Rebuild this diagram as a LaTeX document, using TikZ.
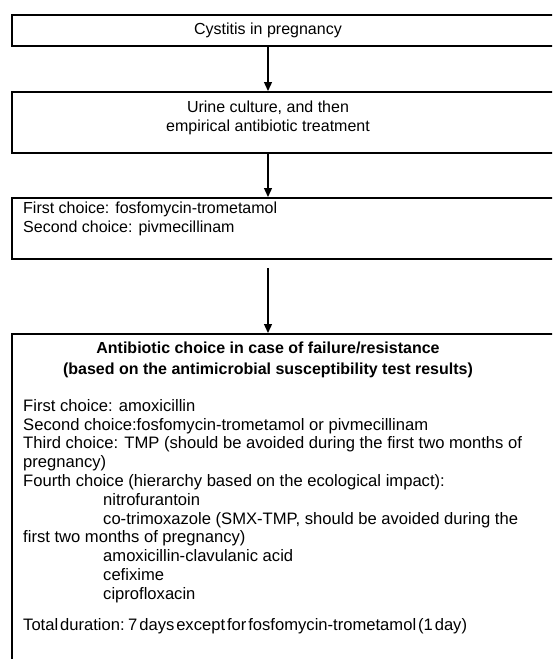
\documentclass[tikz,border=0pt]{standalone}
\usepackage{fontspec}
\setmainfont{Liberation Sans}
\usetikzlibrary{arrows.meta}
\begin{document}
\begin{tikzpicture}[x=1pt,y=-1pt,
  boxframe/.style={draw, line width=1.6pt, inner sep=0pt, anchor=north west, minimum width=600pt},
  flow/.style={line width=1.3pt, -{Triangle[width=8pt,length=9pt]}},
  txt/.style={inner sep=0pt, font=\fontsize{16}{18.8}\selectfont},
  ctxt/.style={txt, align=center},
  ltxt/.style={txt, align=left, anchor=north west},
]
\useasboundingbox (0,0) rectangle (552,659);
\clip (0,0) rectangle (552,659);

% boxes (they run past the right and lower edges)
\node[boxframe, minimum height=31pt] (b1) at (11,14) {};
\node[boxframe, minimum height=61pt] (b2) at (11,91) {};
\node[boxframe, minimum height=61pt] (b3) at (11,197) {};
\node[boxframe, minimum height=400pt] (b4) at (11,333) {};

% box texts
\node[ctxt] (t1) at (268,30) {Cystitis in pregnancy};
\node[ctxt] (t2) at (268,118) {Urine culture, and then\\empirical antibiotic treatment};
\node[ltxt] (t3) at (23,202) {First choice: fosfomycin-trometamol\\Second choice: pivmecillinam};
\node[ctxt, font=\bfseries\fontsize{16}{20.5}\selectfont] (t4) at (268,360)
  {Antibiotic choice in case of failure/resistance\\(based on the antimicrobial susceptibility test results)};
\node[ltxt, font=\fontsize{16.6}{18.8}\selectfont] (t5) at (23,399) {%
First choice: amoxicillin\\
Second choice:fosfomycin-trometamol {\spaceskip=2.5pt or} pivmecillinam\\
Third choice: TMP (should be avoided during the first two months of\\
pregnancy)\\
Fourth choice (hierarchy based on the ecological impact):\\
\hspace*{80pt}nitrofurantoin\\
\hspace*{80pt}co-trimoxazole (SMX-TMP, should be avoided during the\\
first two months of pregnancy)\\
\hspace*{80pt}amoxicillin-clavulanic acid\\
\hspace*{80pt}cefixime\\
\hspace*{80pt}ciprofloxacin\\[12pt]
{\spaceskip=1.9pt Total duration: 7 days except for fosfomycin-trometamol (1 day)}};

% connectors
\coordinate (ax) at (268,0);
\coordinate (a3) at (268,268);
\draw[flow] (b1.south -| ax) -- (b2.north -| ax);
\draw[flow] (b2.south -| ax) -- (b3.north -| ax);
\draw[flow] (a3) -- (b4.north -| a3);
\end{tikzpicture}
\end{document}
